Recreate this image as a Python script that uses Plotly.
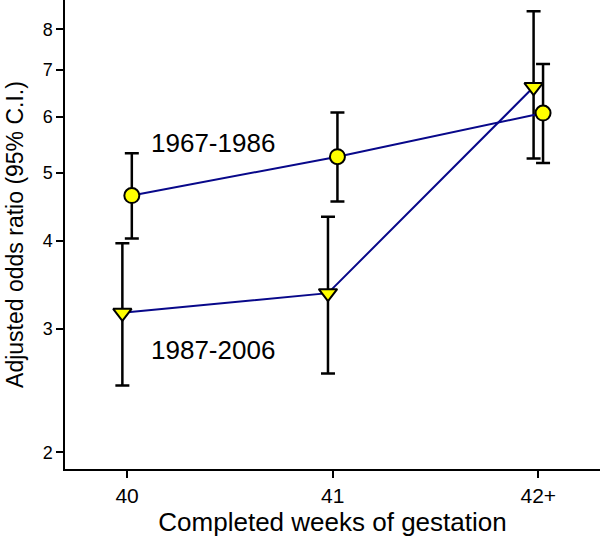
import plotly.graph_objects as go

# Data
categories = ["40", "41", "42+"]
cat_index = [0, 1, 2]
or_6786 = [4.64, 5.27, 6.08]
lo_6786 = [4.03, 4.55, 5.16]
hi_6786 = [5.33, 6.09, 7.14]
or_8706 = [3.16, 3.37, 6.62]
lo_8706 = [2.49, 2.59, 5.24]
hi_8706 = [3.97, 4.33, 8.49]
series_labels = ["1967-1986", "1987-2006"]
y_ticks = [2, 3, 4, 5, 6, 7, 8]

FONT = "Liberation Sans, Arial, Helvetica, sans-serif"
dodge = 0.023

def trace(vals, lo, hi, offset, symbol, size):
    xs = [i + offset for i in cat_index]
    return go.Scatter(
        x=xs, y=vals, mode="lines+markers",
        line=dict(color="#08088a", width=2),
        marker=dict(symbol=symbol, size=size, color="#FFFF00",
                    line=dict(color="black", width=2)),
        error_y=dict(type="data", symmetric=False,
                     array=[h - v for h, v in zip(hi, vals)],
                     arrayminus=[v - l for v, l in zip(vals, lo)],
                     color="black", thickness=2.5, width=7),
        showlegend=False, hoverinfo="skip",
    )

fig = go.Figure()
fig.add_trace(trace(or_8706, lo_8706, hi_8706, -dodge, "triangle-down", 16))
fig.add_trace(trace(or_6786, lo_6786, hi_6786, dodge, "circle", 15))

fig.add_annotation(x=0.417, y=0.741, xref="x", yref="y", text=series_labels[0],
                   showarrow=False, font=dict(family=FONT, size=26, color="black"))
fig.add_annotation(x=0.417, y=0.447, xref="x", yref="y", text=series_labels[1],
                   showarrow=False, font=dict(family=FONT, size=26, color="black"))

fig.update_layout(
    width=600, height=542,
    margin=dict(l=64.5, r=0, t=0, b=72.7),
    paper_bgcolor="white", plot_bgcolor="white",
    font=dict(family=FONT, color="black"),
    xaxis=dict(range=[-0.302, 2.300], tickvals=cat_index, ticktext=categories,
               automargin=False,
               showgrid=False, zeroline=False, showline=True, linecolor="black",
               linewidth=1.5, ticks="outside", ticklen=7, tickwidth=1.5,
               tickcolor="black", tickfont=dict(size=21),
               title=dict(text="Completed weeks of gestation", font=dict(size=26),
                          standoff=6)),
    yaxis=dict(type="log", range=[0.27743, 0.94475], tickvals=y_ticks,
               ticktext=[str(t) for t in y_ticks], automargin=False,
               showgrid=False, zeroline=False, showline=True, linecolor="black",
               linewidth=1.5, ticks="outside", ticklen=7, tickwidth=1.5,
               tickcolor="black", tickfont=dict(size=18),
               title=dict(text="Adjusted odds ratio (95% C.I.)", font=dict(size=23),
                          standoff=13)),
)

fig.write_html("out.html", config={"displayModeBar": False},
               post_script="document.body.style.margin='0';document.body.style.overflow='hidden';")
